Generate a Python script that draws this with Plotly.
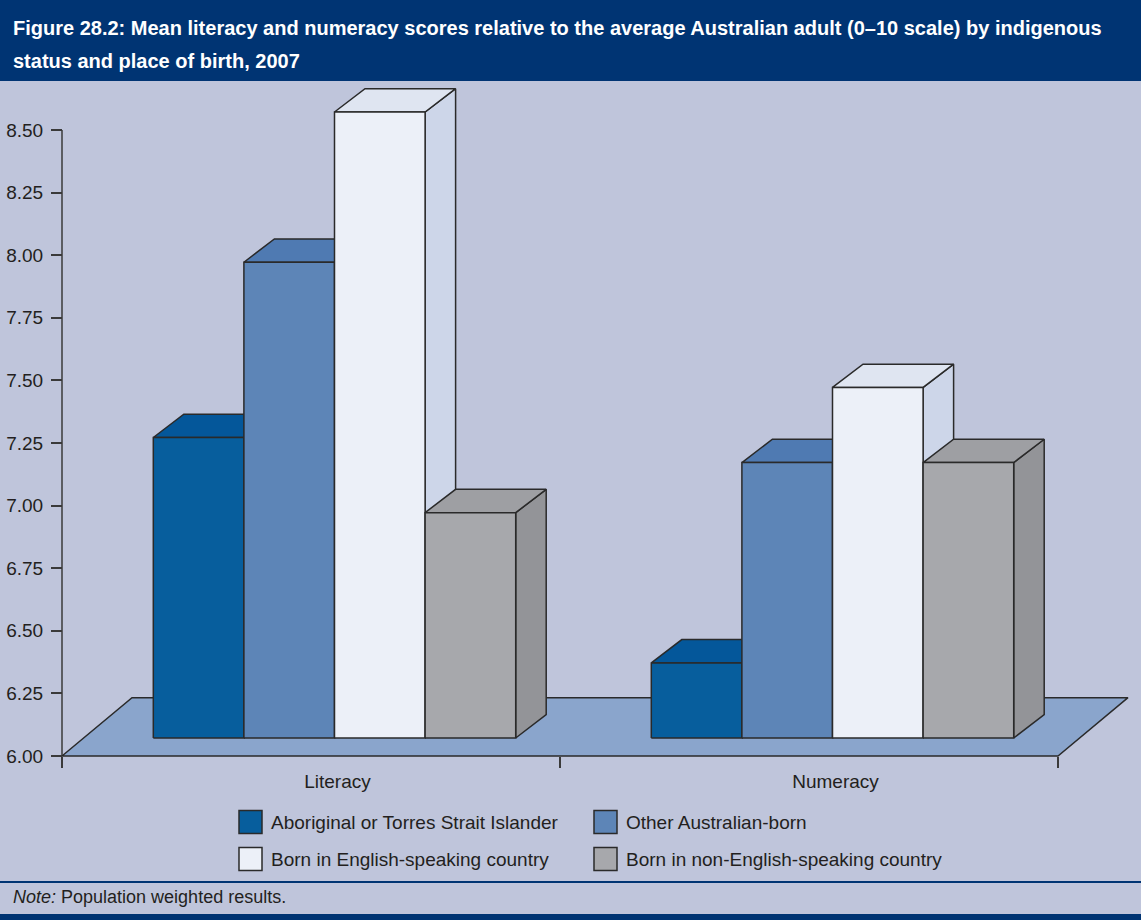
import plotly.graph_objects as go

# ---- data -------------------------------------------------------------
categories = ["Literacy", "Numeracy"]
series_names = [
    "Aboriginal or Torres Strait Islander",
    "Other Australian-born",
    "Born in English-speaking country",
    "Born in non-English-speaking country",
]
aboriginal = [7.2, 6.3]
other_australian = [7.9, 7.1]
english_speaking = [8.5, 7.4]
non_english_speaking = [6.9, 7.1]
y_tick_values = [6.00, 6.25, 6.50, 6.75, 7.00, 7.25, 7.50, 7.75, 8.00, 8.25, 8.50]

series_values = [aboriginal, other_australian, english_speaking, non_english_speaking]

title_lines = [
    "Figure 28.2: Mean literacy and numeracy scores relative to the average "
    "Australian adult (0–10 scale) by indigenous",
    "status and place of birth, 2007",
]

# ---- styling ----------------------------------------------------------
BG = "#BFC5DB"
NAVY = "#003473"
EDGE = "#2a2a2a"
TEXT = "#231F20"
FONT = "Liberation Sans, Arial, sans-serif"
FLOOR_FILL = "#8AA5CC"
# front / top / side shades per series
SHADES = [
    ("#075E9D", "#04579A", "#05528A"),
    ("#5D85B7", "#4F7AB2", "#5479AD"),
    ("#ECF0F8", "#DFE5F1", "#CDD6E9"),
    ("#A7A8AC", "#9E9FA3", "#939498"),
]

W, H = 1141, 920
PL, PR, PT, PB = 40, 1141, 82, 780      # plot area in page pixels
X_PX, Y_PX = 498.0, 250.4                # pixels per axis unit
X_ORIGIN_PX, Y_ORIGIN_PX = 62, 756       # where x=-0.5 and y=6.0 fall

x_range = [-0.5 - (X_ORIGIN_PX - PL) / X_PX, -0.5 + (PR - X_ORIGIN_PX) / X_PX]
y_range = [6.0 - (PB - Y_ORIGIN_PX) / Y_PX, 6.0 + (Y_ORIGIN_PX - PT) / Y_PX]
y_min = y_tick_values[0]
y_max = y_tick_values[-1]

# oblique depth offsets (axis units)
FLOOR_D = (70 / X_PX, 58.3 / Y_PX)
BAR_FRONT = (23.5 / X_PX, 18.0 / Y_PX)
BAR_BACK = (54.0 / X_PX, 41.3 / Y_PX)
BAR_W = 90.6 / X_PX
N = len(series_values)


def px_to_paper_x(px):
    return (px - PL) / (PR - PL)


def px_to_paper_y(py):
    return (PB - py) / (PB - PT)


def face(xs, ys, fill, width=1.5):
    return go.Scatter(
        x=xs + [xs[0]], y=ys + [ys[0]], mode="lines", fill="toself",
        fillcolor=fill, line=dict(color=EDGE, width=width),
        hoverinfo="skip", showlegend=False,
    )


fig = go.Figure()

# value axis line
fig.add_trace(go.Scatter(x=[-0.5, -0.5], y=[y_min, y_max], mode="lines",
                         line=dict(color="#3a3a3a", width=1.5),
                         hoverinfo="skip", showlegend=False))

# floor
x_lo, x_hi = -0.5, len(categories) - 0.5
fx, fy = FLOOR_D
fig.add_trace(face([x_lo, x_hi, x_hi + fx, x_lo + fx],
                   [y_min, y_min, y_min + fy, y_min + fy], FLOOR_FILL))

# bars (drawn left to right so nearer neighbours overlap correctly)
bfx, bfy = BAR_FRONT
bbx, bby = BAR_BACK
for ci, cat in enumerate(categories):
    for si in range(N):
        v = series_values[si][ci]
        front_c, top_c, side_c = SHADES[si]
        x0 = ci - N / 2 * BAR_W + si * BAR_W
        x1 = x0 + BAR_W
        # side face
        fig.add_trace(face([x1 + bfx, x1 + bbx, x1 + bbx, x1 + bfx],
                           [y_min + bfy, y_min + bby, v + bby, v + bfy], side_c))
        # top face
        fig.add_trace(face([x0 + bfx, x1 + bfx, x1 + bbx, x0 + bbx],
                           [v + bfy, v + bfy, v + bby, v + bby], top_c))
        # front face
        fig.add_trace(face([x0 + bfx, x1 + bfx, x1 + bfx, x0 + bfx],
                           [y_min + bfy, y_min + bfy, v + bfy, v + bfy], front_c))

# ---- decorations: bands, title, legend, note --------------------------
shapes = [
    dict(type="rect", xref="paper", yref="paper", layer="below",
         x0=px_to_paper_x(0), x1=px_to_paper_x(W), y0=px_to_paper_y(81), y1=px_to_paper_y(0),
         fillcolor=NAVY, line=dict(width=0)),
    dict(type="rect", xref="paper", yref="paper", layer="below",
         x0=px_to_paper_x(0), x1=px_to_paper_x(W), y0=px_to_paper_y(883), y1=px_to_paper_y(881),
         fillcolor=NAVY, line=dict(width=0)),
    dict(type="rect", xref="paper", yref="paper", layer="below",
         x0=px_to_paper_x(0), x1=px_to_paper_x(W), y0=px_to_paper_y(920), y1=px_to_paper_y(914),
         fillcolor=NAVY, line=dict(width=0)),
]
annotations = []

for li, line in enumerate(title_lines):
    annotations.append(dict(xref="paper", yref="paper", x=px_to_paper_x(11),
                            y=px_to_paper_y(28.5 + 32.5 * li), xanchor="left", yanchor="middle",
                            text="<b>" + line + "</b>", showarrow=False,
                            font=dict(family=FONT, size=20, color="white")))

legend_cols = [239, 594]
legend_rows = [822, 859]
for si, name in enumerate(series_names):
    lx = legend_cols[si % 2]
    ly = legend_rows[si // 2]
    shapes.append(dict(type="rect", xref="paper", yref="paper",
                       x0=px_to_paper_x(lx), x1=px_to_paper_x(lx + 23),
                       y0=px_to_paper_y(ly + 11.5), y1=px_to_paper_y(ly - 11.5),
                       fillcolor=SHADES[si][0], line=dict(color=EDGE, width=1.5)))
    annotations.append(dict(xref="paper", yref="paper", x=px_to_paper_x(lx + 30),
                            y=px_to_paper_y(ly), xanchor="left", yanchor="middle",
                            text=name, showarrow=False,
                            font=dict(family=FONT, size=19, color=TEXT)))

annotations.append(dict(xref="paper", yref="paper", x=px_to_paper_x(11),
                        y=px_to_paper_y(897), xanchor="left", yanchor="middle",
                        text="<i>Note:</i> Population weighted results.", showarrow=False,
                        font=dict(family=FONT, size=18, color=TEXT)))

fig.update_layout(
    width=W, height=H,
    margin=dict(l=PL, r=W - PR, t=PT, b=H - PB, pad=0),
    paper_bgcolor=BG, plot_bgcolor=BG,
    showlegend=False,
    shapes=shapes,
    annotations=annotations,
    xaxis=dict(
        range=x_range, anchor="free",
        position=(y_min - y_range[0]) / (y_range[1] - y_range[0]),
        showgrid=False, zeroline=False, showline=False,
        tickmode="array", tickvals=[i + bfx + 3 / X_PX for i in range(len(categories))],
        ticktext=categories, ticks="", ticklabelstandoff=12,
        tickfont=dict(family=FONT, size=19, color=TEXT),
        minor=dict(tickmode="array",
                   tickvals=[i - 0.5 for i in range(len(categories) + 1)],
                   ticks="outside", ticklen=11, tickwidth=1.5, tickcolor="#3a3a3a"),
        fixedrange=True,
    ),
    yaxis=dict(
        range=y_range, anchor="free",
        position=(-0.5 - x_range[0]) / (x_range[1] - x_range[0]),
        showgrid=False, zeroline=False, showline=False,
        tickmode="array", tickvals=y_tick_values, tickformat=".2f",
        ticks="outside", ticklen=11, tickwidth=1.5, tickcolor="#3a3a3a",
        ticklabelstandoff=4,
        tickfont=dict(family=FONT, size=19, color=TEXT),
        fixedrange=True,
    ),
)

fig.write_html("out.html")
